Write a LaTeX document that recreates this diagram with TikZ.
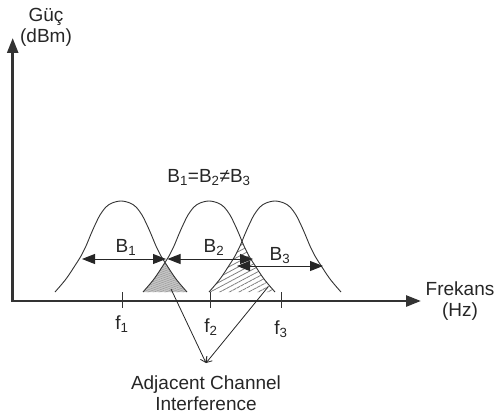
\documentclass[tikz,border=0pt]{standalone}
\usepackage{fontspec}
\setmainfont{Liberation Sans}
\usetikzlibrary{arrows.meta,patterns.meta}
\def\bellpath#1{plot[smooth,tension=0.55] coordinates {
 ({#1-66},292) ({#1-55},279) ({#1-45},264) ({#1-40},256) ({#1-35},246) ({#1-30},234)
 ({#1-26},225) ({#1-21},215) ({#1-15},207) ({#1-9},203) ({#1},201)
 ({#1+9},203) ({#1+15},207) ({#1+21},215) ({#1+26},225) ({#1+30},234)
 ({#1+35},246) ({#1+40},256) ({#1+45},264) ({#1+55},279) ({#1+66},292)}}
\tikzset{
  lbl/.style={font=\fontsize{19}{21}\selectfont, text=black!85, inner sep=0pt, align=center},
  axis/.style={draw=black!80, line width=2.6pt, -{Triangle[length=15pt,width=11pt]}},
  bell/.style={draw=black!80, line width=0.9pt},
  tick/.style={draw=black!80, line width=1pt},
  dim/.style={draw=black!85, line width=1pt, {Triangle[length=13pt,width=10pt]}-{Triangle[length=13pt,width=10pt]}},
  pointer/.style={draw=black!85, line width=0.8pt, -{Straight Barb[length=5pt,width=7pt]}}
}
\begin{document}
\begin{tikzpicture}[x=1pt,y=-1pt]
\useasboundingbox (0,0) rectangle (494,414);
% overlap regions
\begin{scope}
  \clip \bellpath{121} -- cycle;
  \fill[gray!45] \bellpath{209} -- cycle;
  \fill[pattern={Lines[angle=20,distance=2pt,line width=0.5pt]}, pattern color=gray!80] \bellpath{209} -- cycle;
\end{scope}
\begin{scope}
  \clip \bellpath{209} -- cycle;
  \fill[pattern={Lines[angle=28,distance=4.5pt,line width=0.8pt]}, pattern color=gray] \bellpath{275} -- cycle;
\end{scope}
% bells
\draw[bell] \bellpath{121};
\draw[bell] \bellpath{209};
\draw[bell] \bellpath{275};
% axes
\coordinate (origin) at (12.7,301);
\coordinate (ytip) at (12.7,38);
\coordinate (xtip) at (421,301);
\draw[axis] (origin) -- (ytip);
\draw[axis] ([xshift=-1.3pt]origin) -- (xtip);
% ticks
\coordinate (t1a) at (122,292); \coordinate (t1b) at (122,308);
\coordinate (t2a) at (210,292); \coordinate (t2b) at (210,308);
\coordinate (t3a) at (281.5,292); \coordinate (t3b) at (281.5,308);
\draw[tick] (t1a) -- (t1b);
\draw[tick] (t2a) -- (t2b);
\draw[tick] (t3a) -- (t3b);
% bandwidth arrows
\coordinate (b1l) at (82,259); \coordinate (b1r) at (166,259);
\coordinate (b2l) at (167.5,259); \coordinate (b2r) at (253,259);
\coordinate (b3l) at (237,266); \coordinate (b3r) at (323,266);
\draw[dim] (b1l) -- (b1r);
\draw[dim] (b2l) -- (b2r);
\draw[dim] (b3l) -- (b3r);
% pointers
\coordinate (i1) at (171,289);
\coordinate (i2) at (268,287);
\coordinate (aci) at (206,363);
\draw[pointer] (i1) -- (aci);
\draw[pointer] (i2) -- (aci);
% labels
\node[lbl] (guc) at (46,27) {Güç\\(dBm)};
\node[lbl] (frek) at (460,301) {Frekans\\(Hz)};
\node[lbl] (adj) at (206,393) {Adjacent Channel\\Interference};
\node[lbl, anchor=base] (title) at (209,182) {B\textsubscript{1}=B\textsubscript{2}≠B\textsubscript{3}};
\node[lbl, anchor=base] (lb1) at (126,252) {B\textsubscript{1}};
\node[lbl, anchor=base] (lb2) at (214,252) {B\textsubscript{2}};
\node[lbl, anchor=base] (lb3) at (280,260) {B\textsubscript{3}};
\node[lbl, anchor=base] (f1) at (122,329) {f\textsubscript{1}};
\node[lbl, anchor=base] (f2) at (211,332) {f\textsubscript{2}};
\node[lbl, anchor=base] (f3) at (281,334) {f\textsubscript{3}};
\end{tikzpicture}
\end{document}
